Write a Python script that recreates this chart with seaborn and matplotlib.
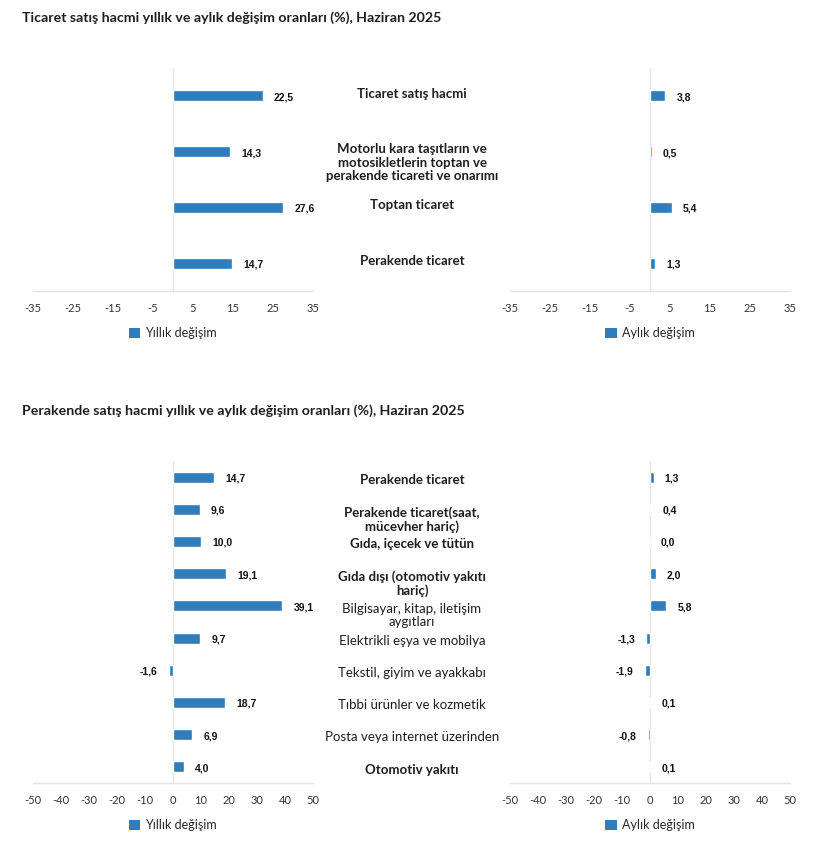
import matplotlib
matplotlib.use("Agg")
import matplotlib.pyplot as plt
import matplotlib.transforms as mtransforms
from matplotlib.patches import Patch
import numpy as np
import pandas as pd
import seaborn as sns

# ---- data ----
top_title = "Ticaret satış hacmi yıllık ve aylık değişim oranları (%), Haziran 2025"
top_cats = ["Ticaret satış hacmi",
            "Motorlu kara taşıtların ve\nmotosikletlerin toptan ve\nperakende ticareti ve onarımı",
            "Toptan ticaret",
            "Perakende ticaret"]
top_yearly = [22.5, 14.3, 27.6, 14.7]
top_monthly = [3.8, 0.5, 5.4, 1.3]
top_ticks = [-35, -25, -15, -5, 5, 15, 25, 35]

bot_title = "Perakende satış hacmi yıllık ve aylık değişim oranları (%), Haziran 2025"
bot_cats = ["Perakende ticaret",
            "Perakende ticaret(saat,\nmücevher hariç)",
            "Gıda, içecek ve tütün",
            "Gıda dışı (otomotiv yakıtı\nhariç)",
            "Bilgisayar, kitap, iletişim\naygıtları",
            "Elektrikli eşya ve mobilya",
            "Tekstil, giyim ve ayakkabı",
            "Tıbbi ürünler ve kozmetik",
            "Posta veya internet üzerinden",
            "Otomotiv yakıtı"]
bot_yearly = [14.7, 9.6, 10.0, 19.1, 39.1, 9.7, -1.6, 18.7, 6.9, 4.0]
bot_monthly = [1.3, 0.4, 0.0, 2.0, 5.8, -1.3, -1.9, 0.1, -0.8, 0.1]
bot_ticks = [-50, -40, -30, -20, -10, 0, 10, 20, 30, 40, 50]
bot_bold = [True, True, True, True, False, False, False, False, False, True]

legend_yearly = "Yıllık değişim"
legend_monthly = "Aylık değişim"

BAR = "#2f7dbd"
GRID = "#e4e4e4"
TXT = "#1e1e1e"

sns.set_theme(style="white")
plt.rcParams["font.family"] = ["Lato", "DejaVu Sans"]

W, H = 821, 861
fig = plt.figure(figsize=(W / 100, H / 100), dpi=100)


def px_axes(x0, y0, x1, y1):
    return fig.add_axes([x0 / W, 1 - y1 / H, (x1 - x0) / W, (y1 - y0) / H])


def draw_panel(ax, cats, vals, ticks, width, legend_label, h_px):
    df = pd.DataFrame({"cat": cats, "val": vals})
    sns.barplot(data=df, x="val", y="cat", orient="h", color=BAR,
                width=width, saturation=1, ax=ax)
    ax.set_xlim(ticks[0], ticks[-1])
    ax.set_xticks(ticks)
    ax.set_xticklabels([str(t) for t in ticks], fontsize=8, color="#333333")
    ax.set_yticks([])
    ax.set_xlabel("")
    ax.set_ylabel("")
    ax.tick_params(axis="x", length=0, pad=9)
    for s in ["top", "right", "left"]:
        ax.spines[s].set_visible(False)
    ax.spines["bottom"].set_color(GRID)
    ax.spines["bottom"].set_linewidth(1)
    ax.axvline(0, color=GRID, lw=1, zorder=0)
    for i, v in enumerate(vals):
        lab = f"{v:.1f}".replace(".", ",")
        off = 8 if v >= 0 else -8
        ax.annotate(lab, (v, i), xytext=(off, -1), textcoords="offset points",
                    ha="left" if v >= 0 else "right", va="center",
                    fontsize=7.5, fontweight="bold", fontstretch="normal",
                    color="#111111", family=["Liberation Sans", "DejaVu Sans"])
    handle = Patch(facecolor=BAR, edgecolor="none")
    ax.legend([handle], [legend_label], loc="upper center",
              bbox_to_anchor=(0.5, -36 / h_px), frameon=False,
              handlelength=0.9, handleheight=0.9, handletextpad=0.4,
              borderaxespad=0, borderpad=0,
              prop={"family": ["Lato", "DejaVu Sans"], "size": 9})


def draw_labels(ax, cats, dy, bold):
    trans = mtransforms.blended_transform_factory(fig.transFigure, ax.transData)
    for i, c in enumerate(cats):
        ax.text(412 / W, i + dy, c, transform=trans, ha="center", va="top",
                fontsize=9.5, fontweight="bold" if bold[i] else "normal",
                color=TXT, linespacing=1.15)


# top panels
ax1 = px_axes(33, 68, 313, 291)
draw_panel(ax1, top_cats, top_yearly, top_ticks, 0.2, legend_yearly, 223)
ax2 = px_axes(510, 68, 790, 291)
draw_panel(ax2, top_cats, top_monthly, top_ticks, 0.2, legend_monthly, 223)
draw_labels(ax1, top_cats, -0.15, [True] * len(top_cats))

# bottom panels
ax3 = px_axes(33, 461, 313, 783)
draw_panel(ax3, bot_cats, bot_yearly, bot_ticks, 0.34, legend_yearly, 322)
ax4 = px_axes(510, 461, 790, 783)
draw_panel(ax4, bot_cats, bot_monthly, bot_ticks, 0.34, legend_monthly, 322)
draw_labels(ax3, bot_cats, -0.105, bot_bold)

fig.text(22 / W, 1 - 18 / H, top_title, ha="left", va="center",
         fontsize=10.2, fontweight="bold", color=TXT)
fig.text(22 / W, 1 - 411 / H, bot_title, ha="left", va="center",
         fontsize=10.2, fontweight="bold", color=TXT)

fig.savefig("out.png", dpi=100, facecolor="white")
